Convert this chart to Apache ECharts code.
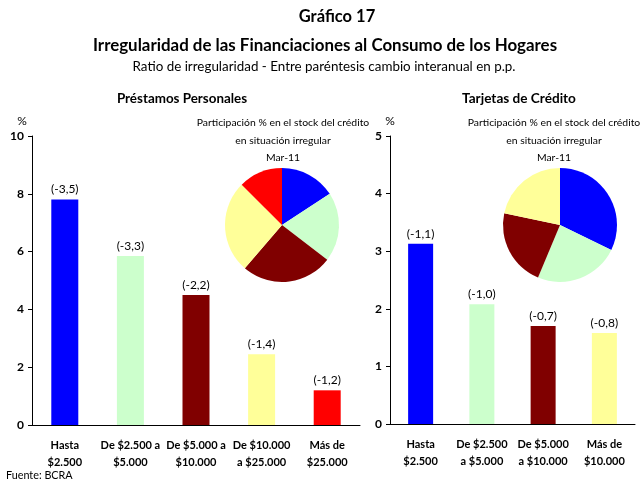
<!DOCTYPE html>
<html>
<head>
<meta charset="utf-8">
<script src="https://cdn.jsdelivr.net/npm/echarts@6/dist/echarts.min.js"></script>
<style>
  html, body { margin: 0; padding: 0; background: #fff; }
  #chart { width: 640px; height: 482px; }
</style>
</head>
<body>
<div id="chart"></div>
<script>
// Préstamos Personales
const catsPrestamos = ['Hasta\n$2.500', 'De $2.500 a\n$5.000', 'De $5.000 a\n$10.000', 'De $10.000\na $25.000', 'Más de\n$25.000'];
const ratioPrestamos = [7.8, 5.85, 4.5, 2.45, 1.2];
const varPrestamos = [-3.5, -3.3, -2.2, -1.4, -1.2];
const piePrestamos = [15.8, 19.6, 25.9, 26.2, 12.5];

// Tarjetas de Crédito
const catsTarjetas = ['Hasta\n$2.500', 'De $2.500\na $5.000', 'De $5.000\na $10.000', 'Más de\n$10.000'];
const ratioTarjetas = [3.13, 2.08, 1.7, 1.58];
const varTarjetas = [-1.1, -1.0, -0.7, -0.8];
const pieTarjetas = [32.2, 24.1, 22.0, 21.7];

const ticksPrestamos = { min: 0, max: 10, interval: 2 };
const ticksTarjetas = { min: 0, max: 5, interval: 1 };

const colors = ['#0000ff', '#ccffcc', '#800000', '#ffff99', '#ff0000'];
const FONT = 'Lato, "Open Sans", sans-serif';

const fmt = (v) => '(' + v.toFixed(1).replace('.', ',') + ')';

const barData = (vals) => vals.map((v, i) => ({ value: v, itemStyle: { color: colors[i] } }));
const pieData = (vals) => vals.map((v, i) => ({ value: v, itemStyle: { color: colors[i] } }));

const chart = echarts.init(document.getElementById('chart'));

const txt = (text, x, y, size, bold, align) => ({
  type: 'text', x, y, silent: true,
  style: {
    text, fill: '#000', textAlign: align || 'center', textVerticalAlign: 'middle',
    font: (bold ? 'bold ' : '') + size + 'px ' + FONT,
  },
});

const xAxisCommon = {
  type: 'category',
  axisLine: { lineStyle: { color: '#000', width: 1 } },
  axisTick: { show: false },
  axisLabel: { color: '#000', fontFamily: FONT, fontWeight: 'bold', fontSize: 11, lineHeight: 17, margin: 12, interval: 0 },
};
const yAxisCommon = {
  type: 'value',
  axisLine: { show: true, lineStyle: { color: '#000', width: 1 } },
  axisTick: { show: true, length: 4, lineStyle: { color: '#000' } },
  axisLabel: { color: '#000', fontFamily: FONT, fontWeight: 'bold', fontSize: 12, margin: 8 },
  splitLine: { show: false },
};
const labelCommon = { show: true, position: 'top', distance: 4, color: '#000', fontFamily: FONT, fontSize: 12 };

const option = {
  animation: false,
  grid: [
    { left: 32, top: 136, width: 328, height: 289 },
    { left: 390, top: 136, width: 245, height: 288 },
  ],
  xAxis: [
    { ...xAxisCommon, gridIndex: 0, data: catsPrestamos },
    { ...xAxisCommon, gridIndex: 1, data: catsTarjetas },
  ],
  yAxis: [
    { ...yAxisCommon, gridIndex: 0, ...ticksPrestamos },
    { ...yAxisCommon, gridIndex: 1, ...ticksTarjetas },
  ],
  series: [
    {
      type: 'bar', xAxisIndex: 0, yAxisIndex: 0, barWidth: 27,
      data: barData(ratioPrestamos),
      label: { ...labelCommon, formatter: (p) => fmt(varPrestamos[p.dataIndex]) },
    },
    {
      type: 'bar', xAxisIndex: 1, yAxisIndex: 1, barWidth: 25,
      data: barData(ratioTarjetas),
      label: { ...labelCommon, formatter: (p) => fmt(varTarjetas[p.dataIndex]) },
    },
    {
      type: 'pie', center: [282, 225], radius: 57, startAngle: 90, silent: true,
      label: { show: false }, labelLine: { show: false },
      data: pieData(piePrestamos),
    },
    {
      type: 'pie', center: [560, 225], radius: 57, startAngle: 90, silent: true,
      label: { show: false }, labelLine: { show: false },
      data: pieData(pieTarjetas),
    },
  ],
  graphic: [
    txt('Gráfico 17', 337, 17, 16.5, true),
    txt('Irregularidad de las Financiaciones al Consumo de los Hogares', 325, 46, 16.9, true),
    txt('Ratio de irregularidad - Entre paréntesis cambio interanual en p.p.', 324, 67, 13.4, false),
    txt('Préstamos Personales', 182, 99, 13.4, true),
    txt('Tarjetas de Crédito', 519, 99, 13.6, true),
    txt('%', 22, 121, 12, false),
    txt('%', 390, 121, 12, false),
    txt('Participación % en el stock del crédito', 283, 123, 10.4, false),
    txt('en situación irregular', 283, 141, 10.4, false),
    txt('Mar-11', 283, 158, 10.4, false),
    txt('Participación % en el stock del crédito', 554, 123, 10.4, false),
    txt('en situación irregular', 554, 141, 10.4, false),
    txt('Mar-11', 554, 158, 10.4, false),
    txt('Fuente: BCRA', 6, 476, 10.8, false, 'left'),
  ],
};

chart.setOption(option);
</script>
</body>
</html>
